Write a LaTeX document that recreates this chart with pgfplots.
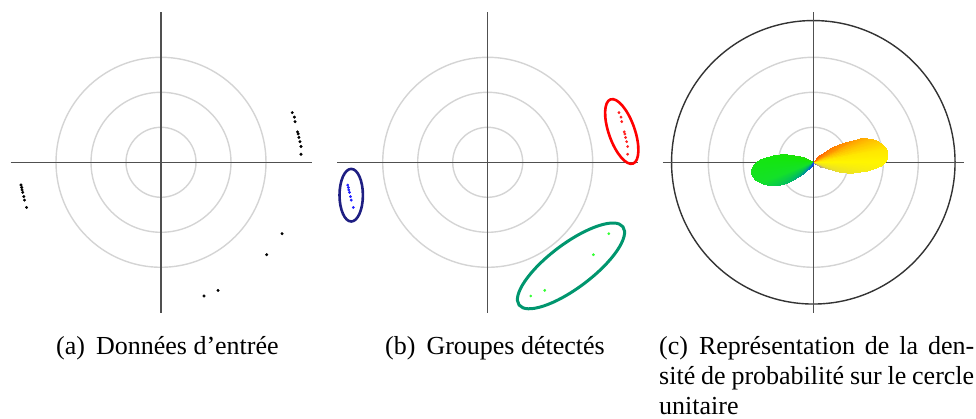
\documentclass[border=0pt]{standalone}
\usepackage{fontspec}
\setmainfont{Liberation Serif}
\newfontfamily\capfam{Liberation Serif}
\usepackage{pgfplots}
\usepackage{pgfplotstable}
\pgfplotsset{compat=1.18}

\definecolor{axcol}{RGB}{80,80,80}
\definecolor{ringcol}{RGB}{212,212,212}
\definecolor{ptred}{RGB}{255,30,30}
\definecolor{ptblue}{RGB}{30,30,255}
\definecolor{ptgreen}{RGB}{50,255,50}
\definecolor{ellred}{RGB}{255,0,0}
\definecolor{ellblue}{RGB}{30,30,130}
\definecolor{ellgreen}{RGB}{0,150,110}

\pgfplotsset{
  panel/.style={scale only axis, width=301pt, height=301pt,
    xmin=-4.3, xmax=4.3, ymin=-4.3, ymax=4.3,
    hide axis, clip=false, anchor=origin},
  colormap={dens}{rgb255(0)=(90,40,210) rgb255(45)=(110,90,210)
    rgb255(60)=(190,175,120) rgb255(70)=(235,225,40) rgb255(90)=(255,245,0)
    rgb255(100)=(255,232,0) rgb255(110)=(255,195,0) rgb255(120)=(255,150,0)
    rgb255(135)=(255,110,0) rgb255(180)=(255,60,0) rgb255(230)=(40,220,0)
    rgb255(260)=(20,230,10) rgb255(290)=(20,225,40) rgb255(310)=(0,185,100)
    rgb255(325)=(0,100,210) rgb255(340)=(30,40,220) rgb255(360)=(90,40,210)},
}

% input points (same in panels a and b)
\pgfplotstableread{
x y
3.75 1.42
3.81 1.29
3.83 1.16
3.90 0.87
3.92 0.81
3.94 0.71
3.97 0.59
4.00 0.45
4.00 0.23
}\ptsright
\pgfplotstableread{
x y
-4.00 -0.65
-3.98 -0.72
-3.97 -0.79
-3.95 -0.86
-3.92 -0.98
-3.90 -1.08
-3.84 -1.29
}\ptsleft
\pgfplotstableread{
x y
3.46 -2.04
3.02 -2.64
1.63 -3.66
1.23 -3.82
}\ptslow

\newcommand{\rings}{%
  \draw[ringcol, line width=1.4pt] (axis cs:0,0) circle[radius=1];
  \draw[ringcol, line width=1.4pt] (axis cs:0,0) circle[radius=2];
  \draw[ringcol, line width=1.4pt] (axis cs:0,0) circle[radius=3];}
\newcommand{\cross}{%
  \addplot[axcol, line width=1.4pt] coordinates {(-4.3,0) (4.3,0)};
  \addplot[axcol, line width=1.4pt] coordinates {(0,-4.3) (0,4.3)};}
\newcommand{\capfont}{\capfam\fontsize{26}{30}\selectfont}

\begin{document}
\begin{tikzpicture}
\useasboundingbox (0,0) rectangle (976pt,419pt);

% (a) input data
\begin{axis}[panel, at={(161pt,256.7pt)}]
\rings
\cross
\addplot[only marks, mark=*, mark size=1.3pt, black] table {\ptsright};
\addplot[only marks, mark=*, mark size=1.3pt, black] table {\ptsleft};
\addplot[only marks, mark=*, mark size=1.3pt, black] table {\ptslow};
\end{axis}

% (b) detected groups
\begin{axis}[panel, at={(487.7pt,256.7pt)}]
\rings
\cross
\addplot[only marks, mark=*, mark size=1.2pt, ptred] table {\ptsright};
\addplot[only marks, mark=*, mark size=1.2pt, ptblue] table {\ptsleft};
\addplot[only marks, mark=*, mark size=1.2pt, ptgreen] table {\ptslow};
\begin{scope}[shift={(axis cs:3.83,0.88)}, rotate=-70.7]
  \draw[ellred, line width=2.6pt] (0pt,0pt) ellipse[x radius=34pt, y radius=13pt];
\end{scope}
\begin{scope}[shift={(axis cs:-3.90,-0.94)}]
  \draw[ellblue, line width=2.6pt] (0pt,0pt) ellipse[x radius=11.7pt, y radius=26.3pt];
\end{scope}
\begin{scope}[shift={(axis cs:2.38,-2.96)}, rotate=37]
  \draw[ellgreen, line width=3pt] (0pt,0pt) ellipse[x radius=65pt, y radius=22pt];
\end{scope}
\end{axis}

% (c) density on the unit circle
\begin{axis}[panel, at={(813.3pt,256.7pt)}, colormap name=dens,
  point meta min=-90, point meta max=270]
\rings
\draw[black!80, line width=1.4pt] (axis cs:0,0) circle[radius=4.05];
\cross
\addplot[patch, shader=interp, data cs=polar, point meta=explicit]
  table[row sep=\\, x=a, y=r, meta=a] {
a r\\
-60 0\\ -60 0.03\\ -45 0.08\\
-45 0\\ -45 0.08\\ -38 0.13\\
-38 0\\ -38 0.13\\ -32 0.24\\
-32 0\\ -32 0.24\\ -27 0.36\\
-27 0\\ -27 0.36\\ -24 0.47\\
-24 0\\ -24 0.47\\ -21 0.78\\
-21 0\\ -21 0.78\\ -18 1.00\\
-18 0\\ -18 1.00\\ -15 1.18\\
-15 0\\ -15 1.18\\ -12 1.36\\
-12 0\\ -12 1.36\\ -9 1.55\\
-9 0\\ -9 1.55\\ -6 1.72\\
-6 0\\ -6 1.72\\ -3 1.93\\
-3 0\\ -3 1.93\\ 0 2.05\\
0 0\\ 0 2.05\\ 3 2.11\\
3 0\\ 3 2.11\\ 6 2.13\\
6 0\\ 6 2.13\\ 9 2.13\\
9 0\\ 9 2.13\\ 12 2.10\\
12 0\\ 12 2.10\\ 15 2.04\\
15 0\\ 15 2.04\\ 18 1.95\\
18 0\\ 18 1.95\\ 21 1.84\\
21 0\\ 21 1.84\\ 24 1.68\\
24 0\\ 24 1.68\\ 27 1.50\\
27 0\\ 27 1.50\\ 30 1.30\\
30 0\\ 30 1.30\\ 33 1.07\\
33 0\\ 33 1.07\\ 36 0.89\\
36 0\\ 36 0.89\\ 40 0.68\\
40 0\\ 40 0.68\\ 43 0.52\\
43 0\\ 43 0.52\\ 46 0.38\\
46 0\\ 46 0.38\\ 49 0.26\\
49 0\\ 49 0.26\\ 53 0.16\\
53 0\\ 53 0.16\\ 60 0.08\\
60 0\\ 60 0.08\\ 75 0.02\\
140 0\\ 140 0.05\\ 146 0.12\\
146 0\\ 146 0.12\\ 149 0.18\\
149 0\\ 149 0.18\\ 152 0.30\\
152 0\\ 152 0.30\\ 155 0.43\\
155 0\\ 155 0.43\\ 158 0.58\\
158 0\\ 158 0.58\\ 162 0.78\\
162 0\\ 162 0.78\\ 166 0.98\\
166 0\\ 166 0.98\\ 170 1.18\\
170 0\\ 170 1.18\\ 173 1.35\\
173 0\\ 173 1.35\\ 177 1.53\\
177 0\\ 177 1.53\\ 180 1.64\\
180 0\\ 180 1.64\\ 183 1.72\\
183 0\\ 183 1.72\\ 186 1.78\\
186 0\\ 186 1.78\\ 190 1.81\\
190 0\\ 190 1.81\\ 193 1.80\\
193 0\\ 193 1.80\\ 197 1.74\\
197 0\\ 197 1.74\\ 200 1.66\\
200 0\\ 200 1.66\\ 203 1.57\\
203 0\\ 203 1.57\\ 206 1.48\\
206 0\\ 206 1.48\\ 210 1.33\\
210 0\\ 210 1.33\\ 214 1.16\\
214 0\\ 214 1.16\\ 218 0.95\\
218 0\\ 218 0.95\\ 221 0.78\\
221 0\\ 221 0.78\\ 224 0.60\\
224 0\\ 224 0.60\\ 227 0.44\\
227 0\\ 227 0.44\\ 232 0.29\\
232 0\\ 232 0.29\\ 237 0.19\\
237 0\\ 237 0.19\\ 242 0.11\\
242 0\\ 242 0.11\\ 250 0.05\\
};
\end{axis}

% captions
\node[anchor=base west, inner sep=0] at (56pt,64pt)
  {\capfont (a)\hspace{11pt}Données d’entrée};
\node[anchor=base west, inner sep=0] at (385pt,64pt)
  {\capfont (b)\hspace{11pt}Groupes détectés};
\node[anchor=base west, inner sep=0] at (659pt,64pt)
  {\capfont\makebox[315pt][s]{(c)\hspace{11pt}Représentation de la den-}};
\node[anchor=base west, inner sep=0] at (659pt,34pt)
  {\capfont\makebox[315pt][s]{sité de probabilité sur le cercle}};
\node[anchor=base west, inner sep=0] at (659pt,4.5pt)
  {\capfont unitaire};
\end{tikzpicture}
\end{document}
